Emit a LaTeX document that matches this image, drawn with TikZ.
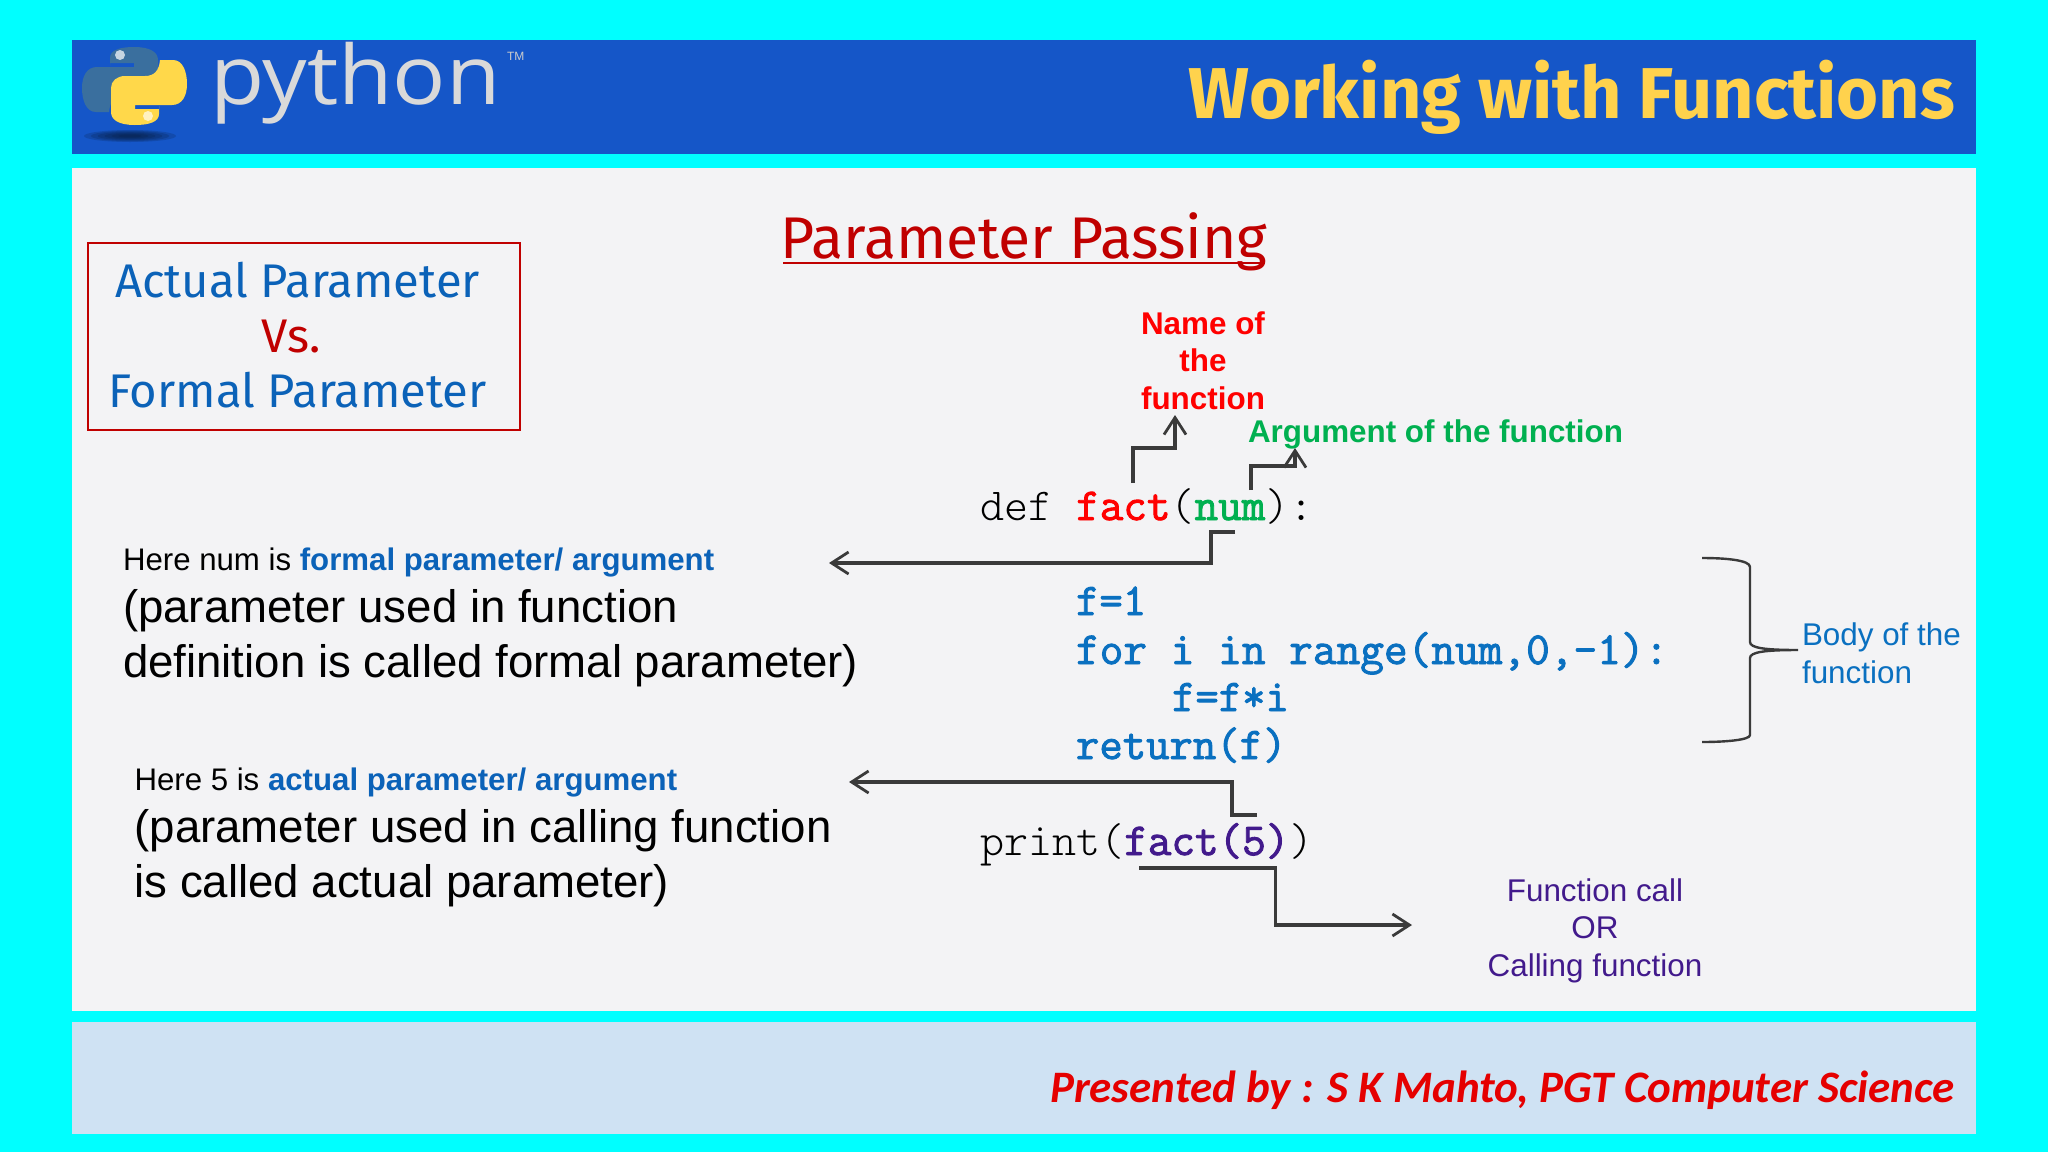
\documentclass[tikz,border=0pt]{standalone}
\usepackage{fontspec}
\setmainfont{Liberation Sans}
\newfontfamily\comicfont{Fira Sans}
\newfontfamily\footfont{Carlito}
\newfontfamily\logofont{Open Sans}
\newfontfamily\codelight{Latin Modern Mono Light}
\newfontfamily\codebold[FakeBold=2]{Latin Modern Mono}
\usetikzlibrary{arrows.meta}
\definecolor{cyanbg}{HTML}{00FFFF}
\definecolor{headblue}{HTML}{1556C8}
\definecolor{panelbg}{HTML}{F3F3F5}
\definecolor{footbg}{HTML}{CFE2F3}
\definecolor{titleyel}{HTML}{FFD24D}
\definecolor{darkred}{HTML}{C00000}
\definecolor{bluetx}{HTML}{0B62B8}
\definecolor{codeblue}{HTML}{0A70C0}
\definecolor{greentx}{HTML}{00B050}
\definecolor{purpletx}{HTML}{421A8C}
\definecolor{linegray}{HTML}{3A3A3A}
\definecolor{snakeblue}{HTML}{3A6F9E}
\definecolor{snakeyel}{HTML}{FFD84A}
\newcommand{\fsz}[1]{\fontsize{#1pt}{#1pt}\selectfont}
\newcommand{\snakepath}{(110,66) -- (110,58) .. controls (110,50) and (120,47) .. (134,47) .. controls (150,47) and (158,52) .. (158,60) -- (158,84) .. controls (158,91) and (152,96) .. (144,96) -- (124,96) .. controls (115,96) and (110,101) .. (109,112) -- (96,112) .. controls (86,112) and (82,100) .. (82,88) .. controls (82,76) and (87,67) .. (97,67) -- (134,67) -- (134,63) -- (110,63) -- cycle}
\tikzset{
  x=0.5pt,y=-0.5pt,
  txt/.style={inner sep=0pt,outer sep=0pt,text=black},
  codeline/.style={txt,anchor=base west,font=\codelight\fsz{22.9}},
  bluecode/.style={txt,anchor=base west,font=\codebold\fsz{22.7},text=codeblue},
  conn/.style={draw=linegray,line width=1.6pt,line join=miter},
  arr/.style={conn,-{Straight Barb[length=8.5pt,width=11pt,line width=1.4pt]}},
  redlabel/.style={txt,align=center,font=\bfseries\fsz{15.7},text=red},
  bigtext/.style={txt,anchor=base west,align=left,font=\fontsize{22.8}{27.5}\selectfont},
}
\begin{document}
\begin{tikzpicture}
\useasboundingbox (0,0) rectangle (2048,1152);
\fill[cyanbg] (0,0) rectangle (2048,1152);
\fill[headblue] (72,40) rectangle (1976,154);
\fill[panelbg] (72,168) rectangle (1976,1011);
\fill[footbg] (72,1022) rectangle (1976,1134);
% logo
\foreach \r in {1,0.85,0.7,0.55,0.4,0.25}
  \fill[black!70!headblue,opacity=.2] (130,136) ellipse [x radius=46*\r,y radius=6*\r];
\fill[snakeblue] \snakepath;
\begin{scope}[shift={(269,172)},xscale=-1,yscale=-1]
\fill[snakeyel] \snakepath;
\end{scope}
\fill[white!70!snakeblue] (120,55) circle [radius=5];
\fill[white!65!snakeyel] (148,116) circle [radius=5];
\node[txt,anchor=base west,font=\logofont\fsz{41},text=white!85!black,xscale=1.08] (pylogo) at (210,104) {python};
\node[txt,anchor=base west,font=\fsz{6},text=white!80!black] (tm) at (507,60) {TM};
% headings
\node[txt,anchor=base east,font=\comicfont\bfseries\fsz{36},text=titleyel] (title) at (1955,118) {Working with Functions};
\node[txt,anchor=base,font=\comicfont\fsz{29.4},text=darkred] (pp) at (1024,258) {Parameter Passing};
\draw[darkred,line width=1pt] (783,263) -- (1265,263);
\node[txt,draw=darkred,line width=1pt,minimum width=216pt,minimum height=93.5pt] (avfbox) at (304,336.5) {};
\node[txt,align=center,font=\comicfont\fontsize{23.6}{27.5}\selectfont,text=bluetx] (avf) at (297.5,335.5) {Actual Parameter\\\textcolor{darkred}{Vs.\hspace*{6.5pt}}\\Formal Parameter};
% labels
\node[redlabel] (nameof) at (1203,360.5) {Name of\\[3pt]the\\[3pt]function};
\node[txt,anchor=base west,font=\bfseries\fsz{15.7},text=greentx] (argf) at (1248,442) {Argument of the function};
% code
\node[codeline] (defline) at (980,520) {def {\codebold\textcolor{red}{fact}}({\codebold\textcolor{greentx}{num}}):};
\node[bluecode] (l1) at (1076,615) {f=1};
\node[bluecode,font=\codebold\fsz{23}] (l2) at (1076,664) {for i in range(num,0,-1):};
\node[bluecode] (l3) at (1172,711) {f=f*i};
\node[bluecode] (l4) at (1076,759) {return(f)};
\node[codeline] (printline) at (980,855) {print({\codebold\textcolor{purpletx}{fact(5)}})};
% left blocks
\node[bigtext] (formal) at (123,677) {{\fontsize{15.6}{15.6}\selectfont Here num is \textbf{\textcolor{bluetx}{formal parameter/ argument}}}\\[-1.6pt](parameter used in function\\definition is called formal parameter)};
\node[bigtext] (actual) at (134.5,897) {{\fontsize{15.6}{15.6}\selectfont Here 5 is \textbf{\textcolor{bluetx}{actual parameter/ argument}}}\\[-1.6pt](parameter used in calling function\\is called actual parameter)};
\node[txt,anchor=base west,align=left,font=\fontsize{15.7}{19}\selectfont,text=codeblue] (body) at (1802,683) {Body of the\\function};
\node[txt,align=center,font=\fontsize{15.7}{18.75}\selectfont,text=purpletx] (fcall) at (1595,930.5) {Function call\\OR\\Calling function};
\node[txt,anchor=base east,font=\footfont\bfseries\itshape\fsz{22.5},text=red!90!black] (pres) at (1955,1102) {Presented by : S K Mahto, PGT Computer Science};
% connector ends
\coordinate (a1s) at (1133,483); \coordinate (a1e) at (1175,415);
\coordinate (a2s) at (1251,490); \coordinate (a2e) at (1295,448);
\coordinate (a3s) at (1235,532); \coordinate (a3e) at (829,563);
\coordinate (a4s) at (1257,815); \coordinate (a4e) at (849,782);
\coordinate (a5s) at (1139,868); \coordinate (a5e) at (1412,925);
\draw[arr] (a1s) -- (1133,448) -- (1175,448) -- (a1e);
\draw[arr] (a2s) -- (1251,466) -- (1295,466) -- (a2e);
\draw[arr] (a3s) -- (1211,532) -- (1211,563) -- (a3e);
\draw[arr] (a4s) -- (1232,815) -- (1232,782) -- (a4e);
\draw[arr] (a5s) -- (1275.5,868) -- (1275.5,925) -- (a5e);
% brace
\draw[conn,line width=1.2pt] (1702,558) .. controls (1725,558) and (1750,560) .. (1750,567) -- (1750,642) .. controls (1750,648) and (1765,650) .. (1798,650) .. controls (1765,650) and (1750,652) .. (1750,658) -- (1750,735) .. controls (1750,740) and (1725,742) .. (1702,742);
\end{tikzpicture}
\end{document}
